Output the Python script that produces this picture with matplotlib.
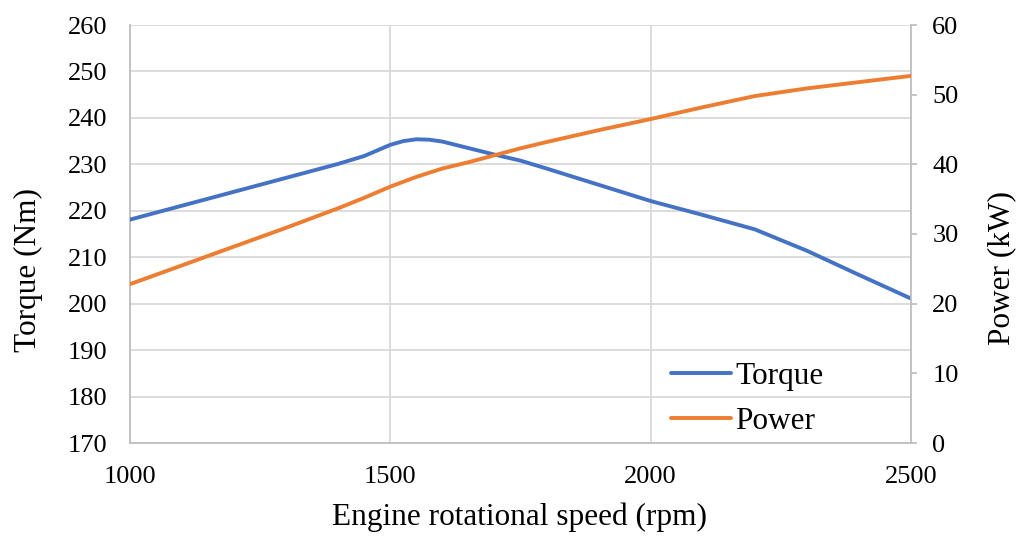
import matplotlib
matplotlib.use("Agg")
import matplotlib.pyplot as plt

rpm = [1000, 1100, 1200, 1300, 1350, 1400, 1450, 1500, 1525, 1550, 1575, 1600,
       1650, 1700, 1750, 1800, 1900, 2000, 2100, 2200, 2300, 2400, 2500]
torque = [218.1, 221.1, 224.1, 227.1, 228.6, 230.1, 231.8, 234.2, 235.0, 235.4,
          235.3, 234.9, 233.5, 232.1, 230.8, 229.1, 225.6, 222.1, 219.1, 216.0,
          211.4, 206.2, 201.1]
power = [22.8, 25.5, 28.2, 30.9, 32.3, 33.7, 35.2, 36.8, 37.5, 38.2, 38.8, 39.4,
         40.3, 41.3, 42.3, 43.2, 44.9, 46.5, 48.2, 49.8, 50.9, 51.8, 52.7]

x_ticks = [1000, 1500, 2000, 2500]
torque_ticks = list(range(170, 261, 10))
power_ticks = list(range(0, 61, 10))

plt.rcParams['font.family'] = ['Liberation Serif', 'DejaVu Serif']

W, H = 1031, 536
fig = plt.figure(figsize=(W / 100, H / 100), dpi=100)
ax = fig.add_axes([130 / W, 1 - 443 / H, (911 - 130) / W, (443 - 25) / H])
ax2 = ax.twinx()

blue = '#4472C4'
orange = '#ED7D31'
grid = '#D9D9D9'
spine = '#BFBFBF'

l1, = ax.plot(rpm, torque, color=blue, lw=2.8, solid_capstyle='round',
              solid_joinstyle='round', label='Torque', zorder=3)
l2, = ax2.plot(rpm, power, color=orange, lw=2.8, solid_capstyle='round',
               solid_joinstyle='round', label='Power', zorder=3)

ax.set_xlim(1000, 2500)
ax.set_ylim(170, 260)
ax2.set_ylim(0, 60)
ax.set_xticks(x_ticks)
ax.set_yticks(torque_ticks)
ax2.set_yticks(power_ticks)

ax.grid(True, color=grid, lw=1.3)
ax.set_axisbelow(True)

for a in (ax, ax2):
    for s in a.spines.values():
        s.set_visible(False)
for a, side in ((ax, 'left'), (ax, 'bottom'), (ax2, 'right')):
    a.spines[side].set_visible(True)
    a.spines[side].set_color(spine)
    a.spines[side].set_linewidth(1.3)

ax.tick_params(axis='y', length=0, pad=16, labelsize=19, labelcolor='black')
ax.tick_params(axis='x', length=0, pad=16.5, labelsize=19, labelcolor='black')
ax2.tick_params(axis='y', length=4.3, width=1.3, color=spine, pad=11,
                labelsize=19, labelcolor='black')

ax.set_ylabel('Torque (Nm)', fontsize=22.5)
ax2.set_ylabel('Power (kW)', fontsize=22.5)
ax.set_xlabel('Engine rotational speed (rpm)', fontsize=22.5)
ax.yaxis.set_label_coords(-0.1306, 0.414)
ax2.yaxis.set_label_coords(1.1165, 0.4175)
ax.xaxis.set_label_coords(0.4985, -0.1434)
ax.yaxis.label.set_va('center')
ax2.yaxis.label.set_va('center')

leg = ax.legend(handles=[l1, l2], loc='lower left', bbox_to_anchor=(0.677, -0.013),
                frameon=False, fontsize=22.5, handlelength=1.92, handletextpad=0.12,
                labelspacing=0.51, borderaxespad=0.0)

fig.savefig('out.png', dpi=100)
